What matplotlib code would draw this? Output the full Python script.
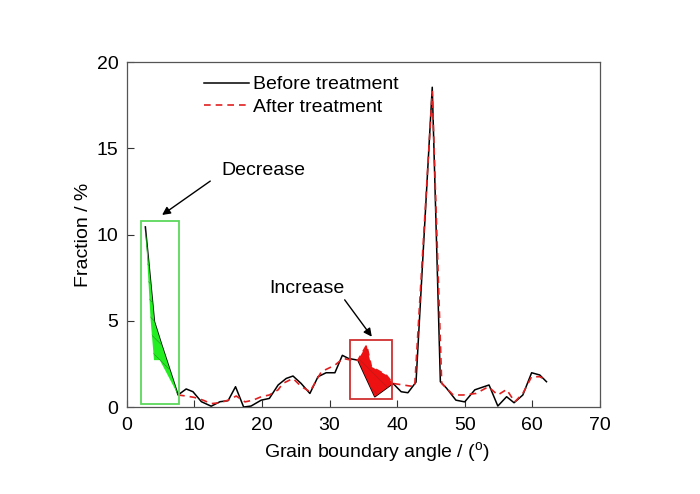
import numpy as np
import matplotlib
matplotlib.use("Agg")
import matplotlib.pyplot as plt
from matplotlib.patches import Rectangle

plt.rcParams['font.family'] = ['Liberation Sans', 'DejaVu Sans']
plt.rcParams['mathtext.fontset'] = 'custom'
plt.rcParams['mathtext.rm'] = 'Liberation Sans'
plt.rcParams['hatch.linewidth'] = 0.5

# Before treatment
x_before = [2.76, 4.1, 5.1, 7.6, 8.8, 9.8, 11.05, 12.5, 13.8, 15.0, 16.1, 17.3, 18.4,
            19.9, 21.1, 22.4, 23.6, 24.6, 25.8, 27.1, 28.3, 29.5, 30.8, 31.9, 32.8,
            34.2, 36.7, 39.4, 40.6, 41.6, 42.8, 45.2, 46.4, 47.3, 48.7, 50.0, 51.5,
            53.6, 54.9, 56.2, 57.3, 58.6, 59.9, 61.1, 62.1]
y_before = [10.45, 4.95, 3.7, 0.7, 1.05, 0.89, 0.31, 0.05, 0.31, 0.37, 1.18, 0.0, 0.06,
            0.4, 0.5, 1.28, 1.66, 1.8, 1.37, 0.79, 1.76, 1.99, 1.99, 3.0, 2.82,
            2.72, 0.6, 1.37, 0.89, 0.83, 1.45, 18.55, 1.47, 1.1, 0.4, 0.3, 1.0,
            1.28, 0.06, 0.6, 0.25, 0.7, 1.99, 1.86, 1.47]

# After treatment
x_after = [7.6, 8.8, 10.0, 11.3, 12.5, 13.8, 15.0, 16.2, 17.5, 18.7, 19.9, 21.1, 22.4,
           23.1, 24.6, 25.8, 27.1, 28.8, 30.8, 32.0, 33.5, 34.2, 35.5, 36.2, 38.4,
           39.4, 40.9, 42.6, 45.2, 46.6, 48.3, 49.8, 51.7, 53.5, 54.9, 56.2, 57.4,
           58.6, 59.9, 61.1, 62.1]
y_after = [0.7, 0.64, 0.56, 0.4, 0.2, 0.25, 0.4, 0.64, 0.3, 0.4, 0.6, 0.7, 1.0,
           1.37, 1.66, 1.2, 0.89, 2.05, 2.43, 2.82, 2.7, 2.72, 3.6, 2.34, 1.86,
           1.37, 1.28, 1.18, 18.3, 1.37, 0.7, 0.7, 0.79, 1.18, 0.7, 1.02, 0.3,
           0.79, 1.76, 1.76, 1.56]

# Lower edge of the shaded "decrease" region
x_dec_edge = [2.76, 3.54, 4.04, 4.9, 7.6]
y_dec_edge = [10.45, 5.04, 2.72, 2.72, 0.7]

# Highlight boxes [x0, x1, y0, y1]
dec_box = [2.17, 7.74, 0.16, 10.8]
inc_box = [33.0, 39.3, 0.45, 3.88]

x_ticks = [0, 10, 20, 30, 40, 50, 60, 70]
y_ticks = [0, 5, 10, 15, 20]

FS = 14

fig = plt.figure(figsize=(7.0, 4.94), dpi=100)
ax = fig.add_axes([0.181, 0.176, 0.676, 0.698])

ax.plot(x_before, y_before, color='black', lw=1.1, label='Before treatment', zorder=3)
ax.plot(x_after, y_after, color='#e02020', lw=1.2, ls=(0, (4, 3)), label='After treatment', zorder=3)

# decrease fill
xg = np.linspace(x_dec_edge[0], x_dec_edge[-1], 200)
ax.fill_between(xg, np.interp(xg, x_dec_edge, y_dec_edge), np.interp(xg, x_before, y_before),
                facecolor='#22ee22', edgecolor='#2a9a2a', hatch='\\\\', lw=0, zorder=4)
# increase fill
xr = np.linspace(34.2, 39.4, 200)
ax.fill_between(xr, np.interp(xr, x_before, y_before), np.interp(xr, x_after, y_after),
                facecolor='#ee1111', edgecolor='#c01818', hatch='\\\\', lw=0, zorder=4)

ax.add_patch(Rectangle((dec_box[0], dec_box[2]), dec_box[1] - dec_box[0], dec_box[3] - dec_box[2],
                       fill=False, edgecolor='#5cd85c', lw=1.3, zorder=5))
ax.add_patch(Rectangle((inc_box[0], inc_box[2]), inc_box[1] - inc_box[0], inc_box[3] - inc_box[2],
                       fill=False, edgecolor='#d03030', lw=1.3, zorder=5))

ax.annotate('', xy=(4.9, 11.05), xytext=(12.7, 13.2),
            arrowprops=dict(arrowstyle='-|>', color='black', lw=1.0, mutation_scale=12))
ax.text(20.2, 13.7, 'Decrease', fontsize=FS, ha='center', va='center')
ax.annotate('', xy=(36.5, 3.95), xytext=(32.0, 6.35),
            arrowprops=dict(arrowstyle='-|>', color='black', lw=1.0, mutation_scale=12))
ax.text(26.6, 6.85, 'Increase', fontsize=FS, ha='center', va='center')

ax.set_xlim(0, 70)
ax.set_ylim(0, 20)
ax.set_xticks(x_ticks)
ax.set_yticks(y_ticks)
ax.tick_params(direction='in', length=5, width=0.8, labelsize=FS, colors='#333333',
               labelcolor='black', top=False, right=False)
ax.tick_params(axis='x', pad=7)
ax.tick_params(axis='y', pad=6)
for s in ax.spines.values():
    s.set_color('#555555')
    s.set_linewidth(0.9)

ax.set_xlabel(r'Grain boundary angle / ($^{\rm o}$)', fontsize=FS, labelpad=3)
ax.xaxis.set_label_coords(0.528, -0.095)
ax.set_ylabel('Fraction / %', fontsize=FS, labelpad=3)

leg = ax.legend(loc='upper left', bbox_to_anchor=(0.135, 1.0), frameon=False, fontsize=FS,
                handlelength=2.3, handletextpad=0.2, labelspacing=0.25, borderaxespad=0.3)

fig.savefig('out.png', dpi=100)
